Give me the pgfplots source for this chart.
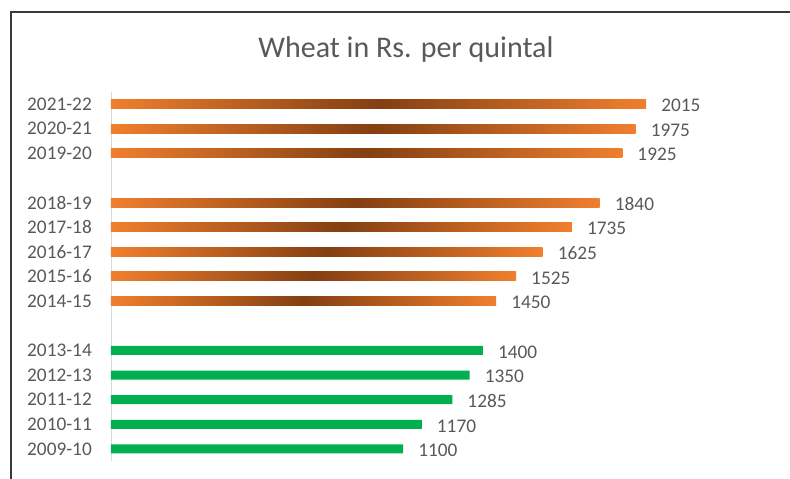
\documentclass[border=0pt]{standalone}
\usepackage{pgfplots}
\pgfplotsset{compat=1.18}
\usepackage{fontspec}
\setmainfont{Carlito}
\definecolor{txt}{HTML}{595959}
\definecolor{axln}{HTML}{D9D9D9}
\definecolor{grn}{HTML}{00B050}
\definecolor{orng}{HTML}{F07F2E}
\definecolor{brwn}{HTML}{843F12}
\definecolor{framec}{HTML}{3A3A3A}
\begin{document}
\begin{tikzpicture}[x=1pt,y=1pt]
\useasboundingbox (0,0) rectangle (790,479);
\fill[white] (0,0) rectangle (790,479);
\draw[framec, line width=1.6pt] (11,0) -- (11,467) -- (790,467);
\node[text=txt, font=\fontsize{30}{36}\selectfont, anchor=base, inner sep=0pt] at (406,421) {Wheat in Rs. per quintal};
\begin{axis}[
  at={(111pt,17.7pt)}, anchor=south west,
  scale only axis, width=664pt, height=369.6pt,
  xmin=0, xmax=2500, ymin=-0.5, ymax=14.5,
  axis x line=none, axis y line*=left,
  y axis line style={draw=axln, line width=0.8pt},
  ytick={0,1,2,3,4,6,7,8,9,10,12,13,14},
  yticklabels={2009-10,2010-11,2011-12,2012-13,2013-14,2014-15,2015-16,2016-17,2017-18,2018-19,2019-20,2020-21,2021-22},
  major tick length=0pt,
  yticklabel style={font=\fontsize{19.3}{23}\selectfont, text=txt, inner sep=0pt, anchor=east, xshift=-19pt},
  xbar, bar width=9pt, bar shift=0pt,
  nodes near coords,
  nodes near coords style={font=\fontsize{19.3}{23}\selectfont, text=txt, anchor=west, inner sep=0pt, xshift=15pt, yshift=-1.5pt},
  /pgf/number format/1000 sep={}, /pgf/number format/assume math mode=true,
  obar/.style={draw=none, left color=orng, right color=orng, middle color=brwn},
]
\addplot[draw=none, fill=grn] coordinates {(1100,0) (1170,1) (1285,2) (1350,3) (1400,4)};
\addplot[obar] coordinates {(1450,6)};
\addplot[obar] coordinates {(1525,7)};
\addplot[obar] coordinates {(1625,8)};
\addplot[obar] coordinates {(1735,9)};
\addplot[obar] coordinates {(1840,10)};
\addplot[obar] coordinates {(1925,12)};
\addplot[obar] coordinates {(1975,13)};
\addplot[obar] coordinates {(2015,14)};
\end{axis}
\end{tikzpicture}
\end{document}
